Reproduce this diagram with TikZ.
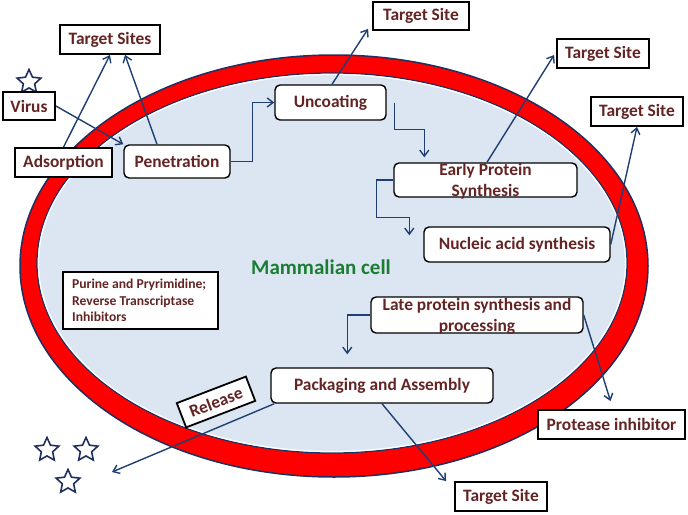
\documentclass[tikz,border=0pt]{standalone}
\usepackage{fontspec}
\setmainfont{Carlito}
\usetikzlibrary{arrows.meta,shapes.geometric,calc}
\definecolor{txt}{HTML}{632423}
\definecolor{arrowc}{HTML}{1F3F73}
\definecolor{navyline}{HTML}{1F2F5F}
\definecolor{cellfill}{HTML}{DCE6F2}
\definecolor{cellgreen}{HTML}{1A7D32}
\newcommand\boxfont{\fontsize{17.4}{21}\selectfont\bfseries}
\newcommand\smallboxfont{\fontsize{13.6}{16.7}\selectfont\bfseries}
\begin{document}
\begin{tikzpicture}[x=1pt,y=-1pt,
  sqbox/.style={draw=black,line width=1.8pt,fill=white,inner sep=0pt,font=\boxfont,text=txt},
  rbox/.style={draw=black,line width=1.4pt,fill=white,rounded corners=5pt,inner sep=0pt,font=\boxfont,text=txt},
  conn/.style={draw=arrowc,line width=1.4pt,-{Straight Barb[length=6pt,width=9pt]}},
  virion/.style={star,star points=5,star point ratio=2.1,draw=navyline,line width=1.6pt,fill=white,minimum size=25pt,inner sep=0pt}
]
\useasboundingbox (0,0) rectangle (688,514);
\fill[white] (0,0) rectangle (688,514);

% cell
\draw[navyline,line width=1.5pt,fill=red] (334,266) ellipse [x radius=314pt, y radius=211pt];
\draw[navyline,line width=1.2pt,fill=cellfill] (332,263) ellipse [x radius=295pt, y radius=190pt];
\draw[white,line width=1.2pt] (332,263) ellipse [x radius=293.5pt, y radius=188.5pt];
\node[font=\fontsize{21}{24}\selectfont\bfseries,text=cellgreen] (cell) at (321,267) {Mammalian cell};

% stars
\node[virion] (star0) at (29,82) {};
\node[virion] (star1) at (47,450) {};
\node[virion] (star2) at (86,450) {};
\node[virion] (star3) at (68,482) {};

% boxes
\node[sqbox,minimum width=100pt,minimum height=29pt] (tsites) at (110,39.5) {Target Sites};
\node[sqbox,minimum width=52pt,minimum height=28pt] (virus) at (29,106) {Virus};
\node[sqbox,minimum width=97pt,minimum height=29pt] (adsorption) at (63.5,162.5) {Adsorption};
\node[rbox,minimum width=106pt,minimum height=33pt] (penetration) at (177,161.5) {Penetration};
\node[rbox,minimum width=111pt,minimum height=35pt] (uncoating) at (330.5,102.5) {Uncoating};
\node[sqbox,minimum width=96pt,minimum height=28pt] (ts1) at (421,16) {Target Site};
\node[sqbox,minimum width=92pt,minimum height=29pt] (ts2) at (603,53.5) {Target Site};
\node[sqbox,minimum width=92pt,minimum height=29pt] (ts3) at (637,111.5) {Target Site};
\node[rbox,minimum width=183pt,minimum height=34pt] (eps) at (485.5,180) {};
\node[font=\boxfont,text=txt,align=center,inner sep=0pt] (epst) at (485.5,181) {Early Protein\\Synthesis};
\node[rbox,minimum width=186pt,minimum height=35pt] (nas) at (517,244.5) {Nucleic acid synthesis};
\node[rbox,minimum width=212pt,minimum height=36pt] (lps) at (477,315) {};
\node[font=\boxfont,text=txt,align=center,inner sep=0pt] (lpst) at (477,316.5) {Late protein synthesis and\\processing};
\node[rbox,minimum width=222pt,minimum height=35pt] (paa) at (382,385.5) {Packaging and Assembly};
\node[sqbox,minimum width=147pt,minimum height=29pt] (pi) at (611.5,424.5) {Protease inhibitor};
\node[sqbox,minimum width=92pt,minimum height=29pt] (ts4) at (501,496.5) {Target Site};
\node[sqbox,minimum width=155pt,minimum height=57pt] (purine) at (140.5,300.5) {};
\node[font=\smallboxfont,text=txt,align=left,inner sep=0pt,anchor=west] (purinet) at (72,300.5) {Purine and Pryrimidine;\\Reverse Transcriptase\\Inhibitors};
\node[sqbox,minimum width=74pt,minimum height=26pt,rotate=21] (release) at (216,402) {Release};

% free ends
\coordinate (u2) at ($(uncoating.east)+(8,0)$);
\coordinate (epsin) at ($(eps.north west)+(31,-5)$);
\coordinate (nin) at ($(nas.north west)+(-14,9)$);
\coordinate (pain) at ($(paa.north west)+(77,-13)$);
\coordinate (relend) at (112,472);

% connectors
\draw[conn] (virus.east) -- (penetration.north west);
\draw[conn] (adsorption.north) -- (tsites.south);
\draw[conn] ($(penetration.north)+(-20,0)$) -- ($(tsites.south)+(15,0)$);
\draw[conn] (penetration.east) -- ++(22,0) |- (uncoating.west);
\draw[conn] ($(uncoating.north)+(1.5,0)$) -- ($(ts1.south west)+(-4,-2)$);
\draw[conn] (u2) -- ++(0,27) -| (epsin);
\draw[conn] ($(eps.north)+(1.5,0)$) -- ($(ts2.west)+(-2,1.5)$);
\draw[conn] (eps.west) -- ++(-17,0) |- ($(nin)+(0,-18)$) -- (nin);
\draw[conn] (nas.east) -- (ts3.south);
\draw[conn] (lps.west) -| (pain);
\draw[conn] (lps.east) -- ($(pi.north)+(-1,-8)$);
\draw[conn] ($(paa.south west)+(4,0)$) -- (relend);
\draw[conn] (paa.south) -- ($(ts4.north west)+(-8,0)$);
\end{tikzpicture}
\end{document}
